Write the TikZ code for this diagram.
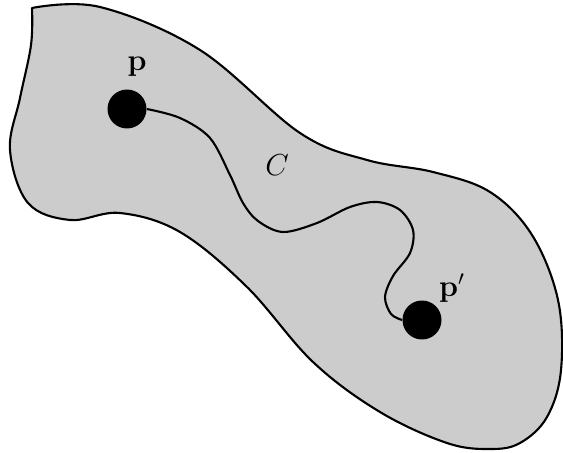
\documentclass[tikz,border=0pt]{standalone}
\usepackage{amsmath}
\begin{document}
\begin{tikzpicture}[x=0.02cm,y=-0.02cm,
  outline/.style={draw=black,line width=1.2pt,fill=black!20,line join=round},
  curve/.style={draw=black,line width=1.2pt},
  dot/.style={circle,fill=black,inner sep=0pt,minimum size=0.78cm},
  lbl/.style={font=\fontsize{17.28}{20}\selectfont,inner sep=0pt}]
\useasboundingbox (0,0) rectangle (563,452);
\path[outline] plot[smooth,tension=0.6] coordinates {(32,8) (100,7) (200,50) (300,133) (367,160) (433,172) (490,192) (532,235) (558,300) (561,370) (547,417) (520,443) (490,449) (447,443) (380,412) (313,362) (247,287) (180,232) (120,213) (70,220) (28,203) (10,150) (20,98) (31,45) (32,8)} -- cycle;
\node[dot] (p) at (127,109) {};
\node[dot] (pp) at (422,320) {};
\draw[curve] plot[smooth,tension=0.55] coordinates {(p.east) (180,118) (210,138) (230,175) (243,203) (258,221) (283,232) (317,223) (350,207) (377,202) (400,210) (413,230) (410,253) (393,276) (385,297) (391,314) (pp.west)};
\node[lbl] (plabel) at (137,67) {$\mathbf{p}$};
\node[lbl] (pplabel) at (452,288) {$\mathbf{p}'$};
\node[lbl] (clabel) at (277,165) {$C$};
\end{tikzpicture}
\end{document}
